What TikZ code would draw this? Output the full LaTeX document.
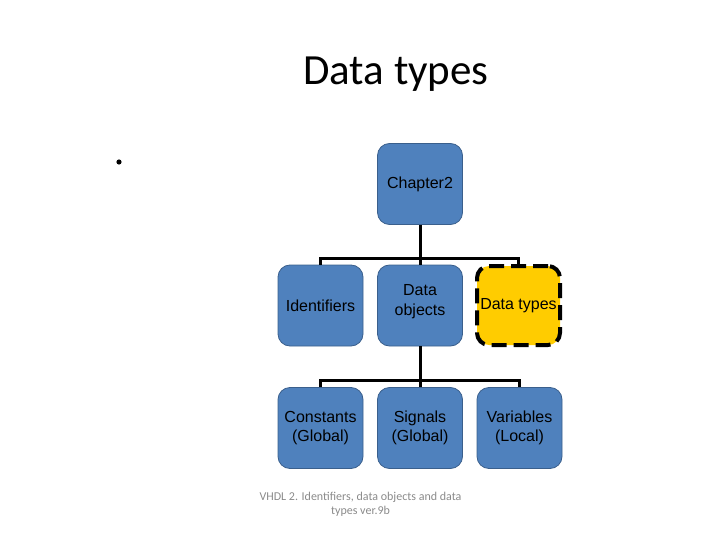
\documentclass[tikz,border=0pt]{standalone}
\usepackage{fontspec}
\setmainfont{Liberation Sans}
\newfontfamily\calibri{Carlito}
\definecolor{boxblue}{HTML}{4F81BD}
\definecolor{boxline}{HTML}{3A5F8C}
\definecolor{hiyellow}{HTML}{FFCC00}
\definecolor{footgray}{HTML}{8A8A8A}
\tikzset{
  smartbox/.style={draw=boxline,fill=boxblue,line width=0.8pt,rounded corners=12pt,
    minimum width=85pt,minimum height=81pt,inner sep=1pt,align=center,
    font=\fontsize{16}{19.5}\selectfont},
  hibox/.style={smartbox,fill=hiyellow,draw=black,line width=4pt,
    dash pattern=on 15pt off 7pt,minimum width=83pt,minimum height=79pt},
  link/.style={line width=3pt}
}
\begin{document}
\begin{tikzpicture}[x=1pt,y=-1pt]
  \useasboundingbox (0,0) rectangle (720,540);
  \node [anchor=base,font=\calibri\fontsize{43}{50}\selectfont] (title) at (396,85) {Data types};
  \fill (119,162) circle (2.6pt);
  % top level
  \node [smartbox] (ch) at (420,184) {Chapter2};
  % second level
  \node [smartbox] (id) at (320.5,305.5) {Identifiers};
  \node [smartbox] (do) at (420,305.5) {Data\\objects\\[-8pt]\mbox{}};
  \node [hibox] (dt) at (518.5,305.5) {Data types};
  % third level
  \node [smartbox] (co) at (320.5,428) {Constants\\(Global)};
  \node [smartbox] (si) at (420,428) {Signals\\(Global)};
  \node [smartbox] (va) at (519.5,428) {Variables\\(Local)};
  % connectors
  \coordinate (bus1) at (420,258);
  \coordinate (bus2) at (420,380);
  \draw [link] (ch.south) -- (bus1);
  \draw [link] (id.north) |- (bus1) -| (dt.north);
  \draw [link] (do.north) -- (bus1);
  \draw [link] (do.south) -- (bus2);
  \draw [link] (co.north) |- (bus2) -| (va.north);
  \draw [link] (si.north) -- (bus2);
  \node [align=center,text=footgray,font=\calibri\fontsize{12}{14}\selectfont,anchor=base] (foot) at (360.5,514)
    {VHDL 2. Identifiers, data objects and data\\types ver.9b};
\end{tikzpicture}
\end{document}
